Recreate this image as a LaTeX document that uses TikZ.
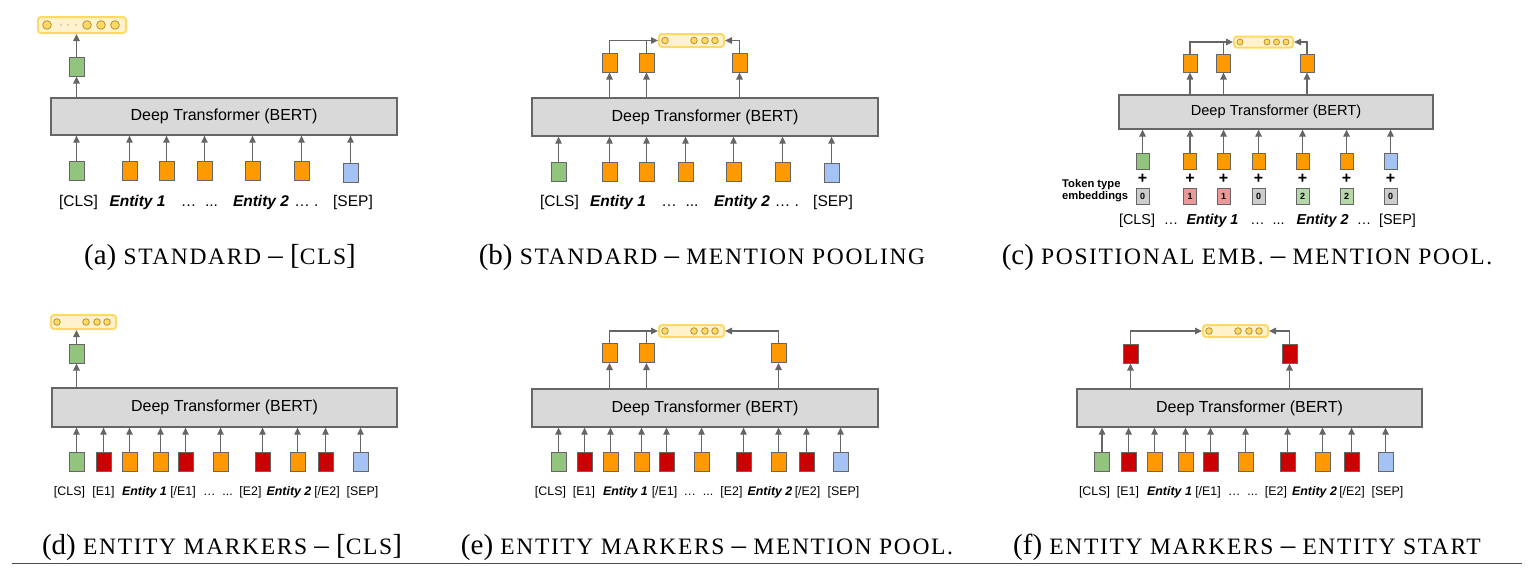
\documentclass[tikz,border=0pt]{standalone}
\usepackage{fontspec}
\setmainfont{Liberation Sans}
\newfontfamily\capfont{Liberation Serif}
\usetikzlibrary{arrows.meta,calc}
\definecolor{tg}{HTML}{93C47D}
\definecolor{to}{HTML}{FF9900}
\definecolor{tr}{HTML}{CC0000}
\definecolor{tb}{HTML}{A4C2F4}
\definecolor{ty0}{HTML}{CCCCCC}
\definecolor{ty1}{HTML}{EA9999}
\definecolor{ty2}{HTML}{B6D7A8}
\definecolor{lnc}{HTML}{666666}
\definecolor{boxfill}{HTML}{D9D9D9}
\definecolor{barfill}{HTML}{FFF2CC}
\definecolor{barline}{HTML}{FFD966}
\definecolor{circline}{HTML}{B8912F}
\newcommand\capt[1]{{\capfont\fontsize{29}{29}\selectfont #1}}
\newcommand\smc[1]{{\fontsize{23.5}{23.5}\selectfont\addfontfeature{LetterSpace=7}#1}}
\tikzset{
  tok/.style={draw=lnc, line width=1pt, minimum width=15pt, minimum height=19pt, inner sep=0pt, fill=#1},
  stok/.style={draw=lnc, line width=1pt, minimum width=13pt, minimum height=16pt, inner sep=0pt, fill=#1},
  bert/.style={draw=lnc, line width=1.3pt, fill=boxfill, inner sep=0pt, font=\fontsize{16}{16}\selectfont},
  ybar/.style={draw=barline, line width=2pt, fill=barfill, rounded corners=3pt, inner sep=0pt},
  circ/.style={draw=circline, line width=0.8pt, fill=barline},
  arr/.style={draw=lnc, line width=1.3pt, -{Triangle[length=7pt,width=6.5pt]}},
  ln/.style={draw=lnc, line width=1.3pt},
  lab/.style={anchor=base, inner sep=0pt, font=\fontsize{15.5}{15.5}\selectfont},
  labc/.style={anchor=base, inner sep=0pt, font=\fontsize{14.4}{14.4}\selectfont},
  labd/.style={anchor=base, inner sep=0pt, font=\fontsize{12.4}{12.4}\selectfont},
  capn/.style={anchor=base, inner sep=0pt},
  btext/.style={anchor=base, inner sep=0pt},
}
\begin{document}
\begin{tikzpicture}[x=1pt,y=-1pt]
\useasboundingbox (0,0) rectangle (1532,584);

% ================= (a) =================
\node[bert, minimum width=346pt, minimum height=37pt] (a-bert) at (224,116.5) {\raisebox{-1.5pt}{Deep Transformer (BERT)}};
\foreach \n/\x/\c/\y in {1/76.5/tg/170.5, 2/129.5/to/170.5, 3/166.5/to/170.5, 4/204.5/to/170.5, 5/252.5/to/170.5, 6/301.5/to/170.5, 7/350.5/tb/172.5}{
  \node[tok=\c] (a-t\n) at (\x,\y) {};
  \draw[arr] (a-t\n.north) -- (a-t\n.north |- a-bert.south);
}
\node[tok=tg] (a-o) at (76.5,66.5) {};
\node[ybar, minimum width=88pt, minimum height=16pt] (a-bar) at (82,25) {};
\draw[arr] (a-o |- a-bert.north) -- (a-o.south);
\draw[arr] (a-o.north) -- (a-o.north |- a-bar.south);
\foreach \d in {10,50,64,78}{\draw[circ] ($(a-bar.west)+(\d,0)$) circle (4.3pt);}
\foreach \d in {24,31,39}{\fill[lnc] ($(a-bar.west)+(\d,0)$) circle (0.6pt);}
\node[lab] (a-l1) at (78.5,206) {[CLS]};
\node[lab] (a-l2) at (137.5,206) {\textbf{\textit{Entity 1}}};
\node[lab] (a-l3) at (199.5,206) {…\ \ ...};
\node[lab] (a-l4) at (261,206) {\textbf{\textit{Entity 2}}};
\node[lab] (a-l5) at (306.5,206) {… .};
\node[lab] (a-l6) at (353,206) {[SEP]};
\node[capn] (a-cap) at (220,264) {\capt{(a) \smc{STANDARD} – [\smc{CLS}]}};

% ================= (b) =================
\node[bert, minimum width=346pt, minimum height=38pt] (b-bert) at (705,117) {\raisebox{-1.5pt}{Deep Transformer (BERT)}};
\foreach \n/\x/\c/\y in {1/558.5/tg/171.5, 2/609.5/to/171.5, 3/646.5/to/171.5, 4/685.5/to/171.5, 5/733.5/to/171.5, 6/782.5/to/171.5, 7/831.5/tb/172.5}{
  \node[tok=\c] (b-t\n) at (\x,\y) {};
  \draw[arr] (b-t\n.north) -- (b-t\n.north |- b-bert.south);
}
\node[ybar, minimum width=65pt, minimum height=13pt] (b-bar) at (691.5,40.5) {};
\foreach \n/\x in {1/609.5, 2/646.5, 3/739.5}{
  \node[tok=to] (b-o\n) at (\x,62.5) {};
  \draw[arr] (b-o\n |- b-bert.north) -- (b-o\n.south);
}
\draw[arr] (b-o1.north) |- (b-bar.west);
\draw[ln] (b-o2.north) -- (b-o2.north |- b-bar.west);
\draw[arr] (b-o3.north) |- (b-bar.east);
\foreach \d in {7,36,47,57}{\draw[circ] ($(b-bar.west)+(\d,0)$) circle (3.3pt);}
\node[lab] (b-l1) at (559.5,206) {[CLS]};
\node[lab] (b-l2) at (618,206) {\textbf{\textit{Entity 1}}};
\node[lab] (b-l3) at (680,206) {…\ \ ...};
\node[lab] (b-l4) at (742,206) {\textbf{\textit{Entity 2}}};
\node[lab] (b-l5) at (787,206) {… .};
\node[lab] (b-l6) at (833,206) {[SEP]};
\node[capn] (b-cap) at (702,264) {\capt{(b) \smc{STANDARD} – \smc{MENTION POOLING}}};

% ================= (c) =================
\node[bert, minimum width=314pt, minimum height=34pt, font=\fontsize{14.6}{14.6}\selectfont] (c-bert) at (1276,112) {\raisebox{-1.5pt}{Deep Transformer (BERT)}};
\foreach \n/\x/\c/\t in {1/1142.5/tg/0, 2/1190/to/1, 3/1223.5/to/1, 4/1258.5/to/0, 5/1302.5/to/2, 6/1346.5/to/2, 7/1390.5/tb/0}{
  \node[stok=\c] (c-t\n) at (\x,161) {};
  \draw[arr] (c-t\n.north) -- (c-t\n.north |- c-bert.south);
  \node[inner sep=0pt, font=\bfseries\fontsize{16}{16}\selectfont] (c-p\n) at (\x,179) {+};
  \node[stok=ty\t, font=\bfseries\fontsize{9}{9}\selectfont] (c-e\n) at (\x,196) {\t};
}
\node[anchor=west, align=left, inner sep=0pt, font=\bfseries\fontsize{11.2}{12.5}\selectfont] (c-tt) at (1062,190.5) {Token type\\embeddings};
\node[ybar, minimum width=59pt, minimum height=11pt] (c-bar) at (1263.5,42) {};
\foreach \n/\x in {1/1190, 2/1223.5, 3/1307}{
  \node[tok=to, minimum width=14pt, minimum height=18pt] (c-o\n) at (\x,63) {};
  \draw[arr] (c-o\n |- c-bert.north) -- (c-o\n.south);
}
\draw[arr] (c-o1.north) |- (c-bar.west);
\draw[ln] (c-o2.north) -- (c-o2.north |- c-bar.west);
\draw[arr] (c-o3.north) |- (c-bar.east);
\foreach \d in {7,34,43.5,53}{\draw[circ] ($(c-bar.west)+(\d,0)$) circle (3pt);}
\node[labc] (c-l1) at (1137,224) {[CLS]};
\node[labc] (c-l2) at (1171,224) {…};
\node[labc] (c-l3) at (1212.5,224) {\textbf{\textit{Entity 1}}};
\node[labc] (c-l4) at (1267.5,224) {…\ \ ...};
\node[labc] (c-l5) at (1322.5,224) {\textbf{\textit{Entity 2}}};
\node[labc] (c-l6) at (1364,224) {…};
\node[labc] (c-l7) at (1397.5,224) {[SEP]};
\node[capn] (c-cap) at (1247,264) {\capt{(c) \smc{POSITIONAL EMB.} – \smc{MENTION POOL.}}};

% ================= (d) =================
\node[bert, minimum width=345pt, minimum height=39pt] (d-bert) at (224.5,407.5) {\raisebox{-1.5pt}{Deep Transformer (BERT)}};
\foreach \n/\x/\c in {1/76.5/tg, 2/103.5/tr, 3/129.5/to, 4/160.5/to, 5/185.5/tr, 6/220.5/to, 7/262.5/tr, 8/297.5/to, 9/325.5/tr, 10/360.5/tb}{
  \node[tok=\c] (d-t\n) at (\x,462) {};
  \draw[arr] (d-t\n.north) -- (d-t\n.north |- d-bert.south);
}
\node[tok=tg] (d-o) at (76.5,353.5) {};
\node[ybar, minimum width=65pt, minimum height=14pt] (d-bar) at (83.5,322) {};
\draw[arr] (d-o |- d-bert.north) -- (d-o.south);
\draw[arr] (d-o.north) -- (d-o.north |- d-bar.south);
\foreach \d in {7,36,47,57}{\draw[circ] ($(d-bar.west)+(\d,0)$) circle (3.3pt);}
\node[labd] (d-l1) at (69.5,495) {[CLS]};
\node[labd] (d-l2) at (103.5,495) {[E1]};
\node[labd] (d-l3) at (144.5,495) {\textbf{\textit{Entity 1}}};
\node[labd] (d-l4) at (183,495) {[/E1]};
\node[labd] (d-l5) at (218,495) {…\ \ ...};
\node[labd] (d-l6) at (250.5,495) {[E2]};
\node[labd] (d-l7) at (289,495) {\textbf{\textit{Entity 2}}};
\node[labd] (d-l8) at (327,495) {[/E2]};
\node[labd] (d-l9) at (362.5,495) {[SEP]};
\node[capn] (d-cap) at (222,554) {\capt{(d) \smc{ENTITY MARKERS} – [\smc{CLS}]}};

% ================= (e) =================
\node[bert, minimum width=346pt, minimum height=38pt] (e-bert) at (705,408) {\raisebox{-1.5pt}{Deep Transformer (BERT)}};
\foreach \n/\x/\c in {1/558.5/tg, 2/584.5/tr, 3/610.5/to, 4/641.5/to, 5/666.5/tr, 6/701.5/to, 7/743.5/tr, 8/778.5/to, 9/806.5/tr, 10/840.5/tb}{
  \node[tok=\c] (e-t\n) at (\x,461.5) {};
  \draw[arr] (e-t\n.north) -- (e-t\n.north |- e-bert.south);
}
\node[ybar, minimum width=65pt, minimum height=12pt] (e-bar) at (691.5,331) {};
\foreach \n/\x in {1/609.5, 2/646.5, 3/778.5}{
  \node[tok=to] (e-o\n) at (\x,353) {};
  \draw[arr] (e-o\n |- e-bert.north) -- (e-o\n.south);
}
\draw[arr] (e-o1.north) |- (e-bar.west);
\draw[ln] (e-o2.north) -- (e-o2.north |- e-bar.west);
\draw[arr] (e-o3.north) |- (e-bar.east);
\foreach \d in {7,36,47,57}{\draw[circ] ($(e-bar.west)+(\d,0)$) circle (3.3pt);}
\node[labd] (e-l1) at (550.5,495) {[CLS]};
\node[labd] (e-l2) at (584,495) {[E1]};
\node[labd] (e-l3) at (625.5,495) {\textbf{\textit{Entity 1}}};
\node[labd] (e-l4) at (664.5,495) {[/E1]};
\node[labd] (e-l5) at (698.5,495) {…\ \ ...};
\node[labd] (e-l6) at (731.5,495) {[E2]};
\node[labd] (e-l7) at (770,495) {\textbf{\textit{Entity 2}}};
\node[labd] (e-l8) at (807.5,495) {[/E2]};
\node[labd] (e-l9) at (843.5,495) {[SEP]};
\node[capn] (e-cap) at (707,554) {\capt{(e) \smc{ENTITY MARKERS} – \smc{MENTION POOL.}}};

% ================= (f) =================
\node[bert, minimum width=345pt, minimum height=38pt] (f-bert) at (1249.5,408) {\raisebox{-1.5pt}{Deep Transformer (BERT)}};
\foreach \n/\x/\c in {1/1102/tg, 2/1128.5/tr, 3/1154.5/to, 4/1185.5/to, 5/1210.5/tr, 6/1245.5/to, 7/1287.5/tr, 8/1322.5/to, 9/1351.5/tr, 10/1385.5/tb}{
  \node[tok=\c] (f-t\n) at (\x,461.5) {};
  \draw[arr] (f-t\n.north) -- (f-t\n.north |- f-bert.south);
}
\node[ybar, minimum width=65pt, minimum height=12pt] (f-bar) at (1235.5,331) {};
\foreach \n/\x in {1/1130.5, 2/1289.5}{
  \node[tok=tr] (f-o\n) at (\x,353.5) {};
  \draw[arr] (f-o\n |- f-bert.north) -- (f-o\n.south);
}
\draw[arr] (f-o1.north) |- (f-bar.west);
\draw[arr] (f-o2.north) |- (f-bar.east);
\foreach \d in {7,36,47,57}{\draw[circ] ($(f-bar.west)+(\d,0)$) circle (3.3pt);}
\node[labd] (f-l1) at (1094.5,495) {[CLS]};
\node[labd] (f-l2) at (1128,495) {[E1]};
\node[labd] (f-l3) at (1169.5,495) {\textbf{\textit{Entity 1}}};
\node[labd] (f-l4) at (1208,495) {[/E1]};
\node[labd] (f-l5) at (1243,495) {…\ \ ...};
\node[labd] (f-l6) at (1276,495) {[E2]};
\node[labd] (f-l7) at (1314.5,495) {\textbf{\textit{Entity 2}}};
\node[labd] (f-l8) at (1352,495) {[/E2]};
\node[labd] (f-l9) at (1387.5,495) {[SEP]};
\node[capn] (f-cap) at (1247,554) {\capt{(f) \smc{ENTITY MARKERS} – \smc{ENTITY START}}};

% bottom rule
\coordinate (ruleL) at (12,563.5);
\coordinate (ruleR) at (1522,563.5);
\draw[line width=1.6pt, color=black!70] (ruleL) -- (ruleR);
\end{tikzpicture}
\end{document}
